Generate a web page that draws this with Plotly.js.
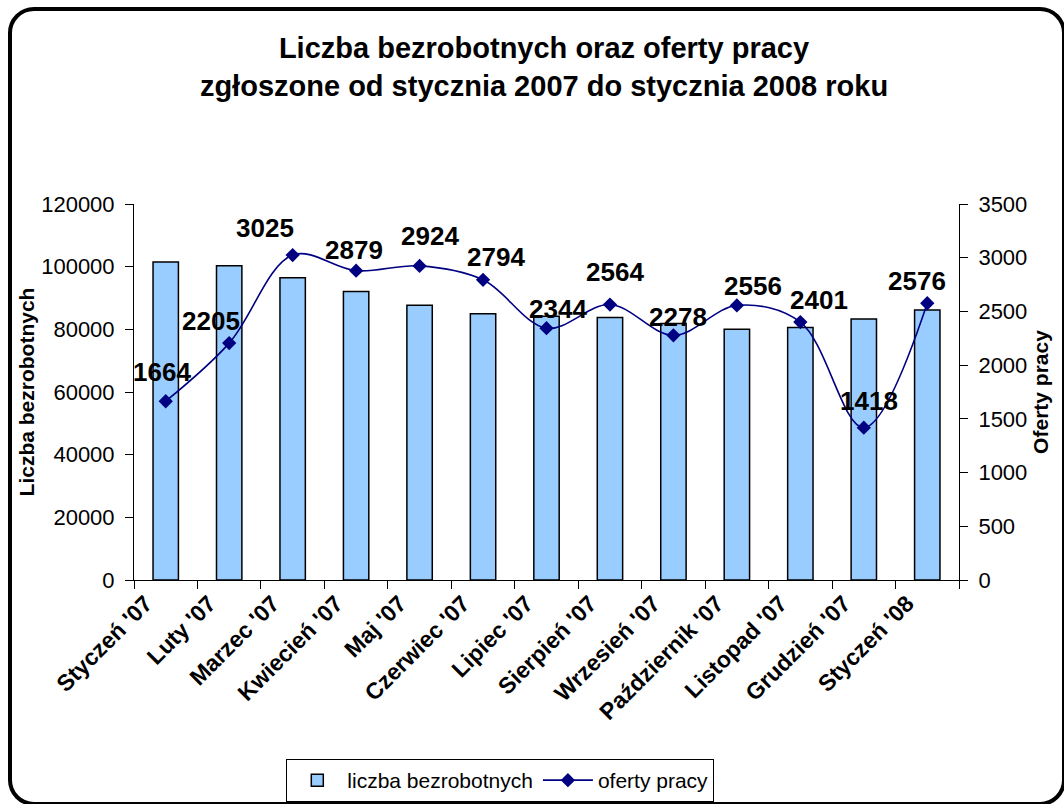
<!DOCTYPE html>
<html><head><meta charset="utf-8">
<script src="https://cdn.plot.ly/plotly-3.0.1.min.js"></script>
<style>
html,body{margin:0;padding:0;background:#fff;overflow:hidden;}
#wrap{position:relative;width:1064px;height:804px;}
#chart{position:absolute;left:0;top:0;width:1064px;height:804px;}
#frame{position:absolute;left:8px;top:7px;width:1058px;height:799px;border:4px solid #000;border-radius:26px;box-sizing:border-box;pointer-events:none;}
</style></head>
<body><div id="wrap"><div id="chart"></div><div id="frame"></div></div>
<script>
// ---- data ----
const months = ["Styczeń '07","Luty '07","Marzec '07","Kwiecień '07","Maj '07","Czerwiec '07","Lipiec '07","Sierpień '07","Wrzesień '07","Październik '07","Listopad '07","Grudzień '07","Styczeń '08"];
const unemployed = [101500, 100300, 96500, 92100, 87700, 85000, 84200, 83800, 81900, 80000, 80600, 83300, 86200];
const jobOffers = [1664, 2205, 3025, 2879, 2924, 2794, 2344, 2564, 2278, 2556, 2401, 1418, 2576];
const leftTicks = [0, 20000, 40000, 60000, 80000, 100000, 120000];
const rightTicks = [0, 500, 1000, 1500, 2000, 2500, 3000, 3500];

// label placement (pixel offsets, layout only)
const labelDx = [-4, -18, -28, -2, 10, 13, 11, 5, 5, 16, 19, 5, -10];
const labelDy = [29, 22, 27, 21, 30, 23, 19, 33, 18, 19, 22, 27, 22];

const FONT = 'Liberation Sans, Arial, Helvetica, sans-serif';
const navy = '#000080';

const traces = [
  {
    type: 'bar', name: 'liczba bezrobotnych', x: months, y: unemployed,
    marker: {color: '#99CCFF', line: {color: '#000', width: 1.5}},
    xaxis: 'x', yaxis: 'y', hoverinfo: 'x+y'
  },
  {
    type: 'scatter', mode: 'lines+markers', name: 'oferty pracy', x: months, y: jobOffers,
    line: {color: navy, width: 1.6, shape: 'spline', smoothing: 1},
    marker: {symbol: 'diamond', size: 11, color: navy},
    xaxis: 'x', yaxis: 'y2'
  }
];

const annotations = months.map((m, i) => ({
  x: m, y: jobOffers[i], xref: 'x', yref: 'y2',
  text: String(jobOffers[i]), showarrow: false,
  xanchor: 'center', yanchor: 'middle',
  xshift: labelDx[i], yshift: labelDy[i],
  font: {family: FONT, size: 26, weight: 700, color: '#000'}
}));

const boundaries = months.map((m, i) => i - 0.5).concat([months.length - 0.5]);
const xr = [-0.5, months.length - 0.5];

const layout = {
  width: 1064, height: 804,
  margin: {l: 134, r: 105, t: 204, b: 224, autoexpand: false},
  paper_bgcolor: '#fff', plot_bgcolor: '#fff',
  font: {family: FONT, color: '#000'},
  showlegend: true,
  title: {
    text: 'Liczba bezrobotnych oraz oferty pracy<br>zgłoszone od stycznia 2007 do stycznia 2008 roku',
    font: {family: FONT, size: 29, weight: 700, color: '#000'},
    x: 544 / 1064, xref: 'container', xanchor: 'center',
    y: 1 - 58 / 804, yref: 'container', yanchor: 'top'
  },
  bargap: 0.6,
  xaxis: {
    type: 'category', range: xr, showline: true, linecolor: '#000', linewidth: 1,
    ticks: 'outside', ticklen: 8, tickcolor: '#000', tickson: 'boundaries',
    tickangle: -45, ticklabelshift: -20, tickfont: {family: FONT, size: 23, weight: 700, color: '#000'},
    showgrid: false, zeroline: false, fixedrange: true, automargin: false
  },
  xaxis2: {
    overlaying: 'x', anchor: 'y', range: xr, tickmode: 'array', tickvals: boundaries,
    ticks: 'inside', ticklen: 6, tickcolor: '#000', showticklabels: false,
    showgrid: false, zeroline: false, showline: false, automargin: false
  },
  xaxis3: {
    overlaying: 'x', anchor: 'y', side: 'top', range: xr, showline: true, linecolor: '#808080',
    linewidth: 1, ticks: '', showticklabels: false, showgrid: false, zeroline: false, automargin: false
  },
  yaxis: {
    range: [0, 120000], tickmode: 'array', tickvals: leftTicks, tickformat: 'd',
    showline: true, linecolor: '#000', linewidth: 1,
    ticks: 'outside', ticklen: 8, tickcolor: '#000', ticklabelstandoff: 6,
    tickfont: {family: FONT, size: 22, color: '#000'},
    title: {text: 'Liczba bezrobotnych', font: {family: FONT, size: 21, weight: 700, color: '#000'}, standoff: 0},
    showgrid: false, zeroline: false, fixedrange: true, automargin: false
  },
  yaxis2: {
    overlaying: 'y', side: 'right', anchor: 'x',
    range: [0, 3500], tickmode: 'array', tickvals: rightTicks, tickformat: 'd',
    showline: true, linecolor: '#000', linewidth: 1,
    ticks: 'outside', ticklen: 8, tickcolor: '#000', ticklabelstandoff: 6,
    tickfont: {family: FONT, size: 22, color: '#000'},
    title: {text: 'Oferty pracy', font: {family: FONT, size: 21, weight: 700, color: '#000'}, standoff: 6},
    showgrid: false, zeroline: false, fixedrange: true, automargin: false
  },
  yaxis3: {
    overlaying: 'y', side: 'left', anchor: 'x', range: [0, 120000], tickmode: 'array', tickvals: leftTicks,
    ticks: 'inside', ticklen: 8, tickcolor: '#000', showticklabels: false,
    showgrid: false, zeroline: false, showline: false, automargin: false
  },
  yaxis4: {
    overlaying: 'y', side: 'right', anchor: 'x', range: [0, 3500], tickmode: 'array', tickvals: rightTicks,
    ticks: 'inside', ticklen: 8, tickcolor: '#000', showticklabels: false,
    showgrid: false, zeroline: false, showline: false, automargin: false
  },
  legend: {
    orientation: 'h', x: 0.444, xanchor: 'center', y: -0.476, yanchor: 'top',
    bordercolor: '#000', borderwidth: 1, bgcolor: '#fff', itemwidth: 50,
    font: {family: FONT, size: 21, color: '#000'}, traceorder: 'normal'
  },
  annotations: annotations
};

Plotly.newPlot('chart', traces, layout, {displayModeBar: false, staticPlot: true});
</script>
</body></html>
